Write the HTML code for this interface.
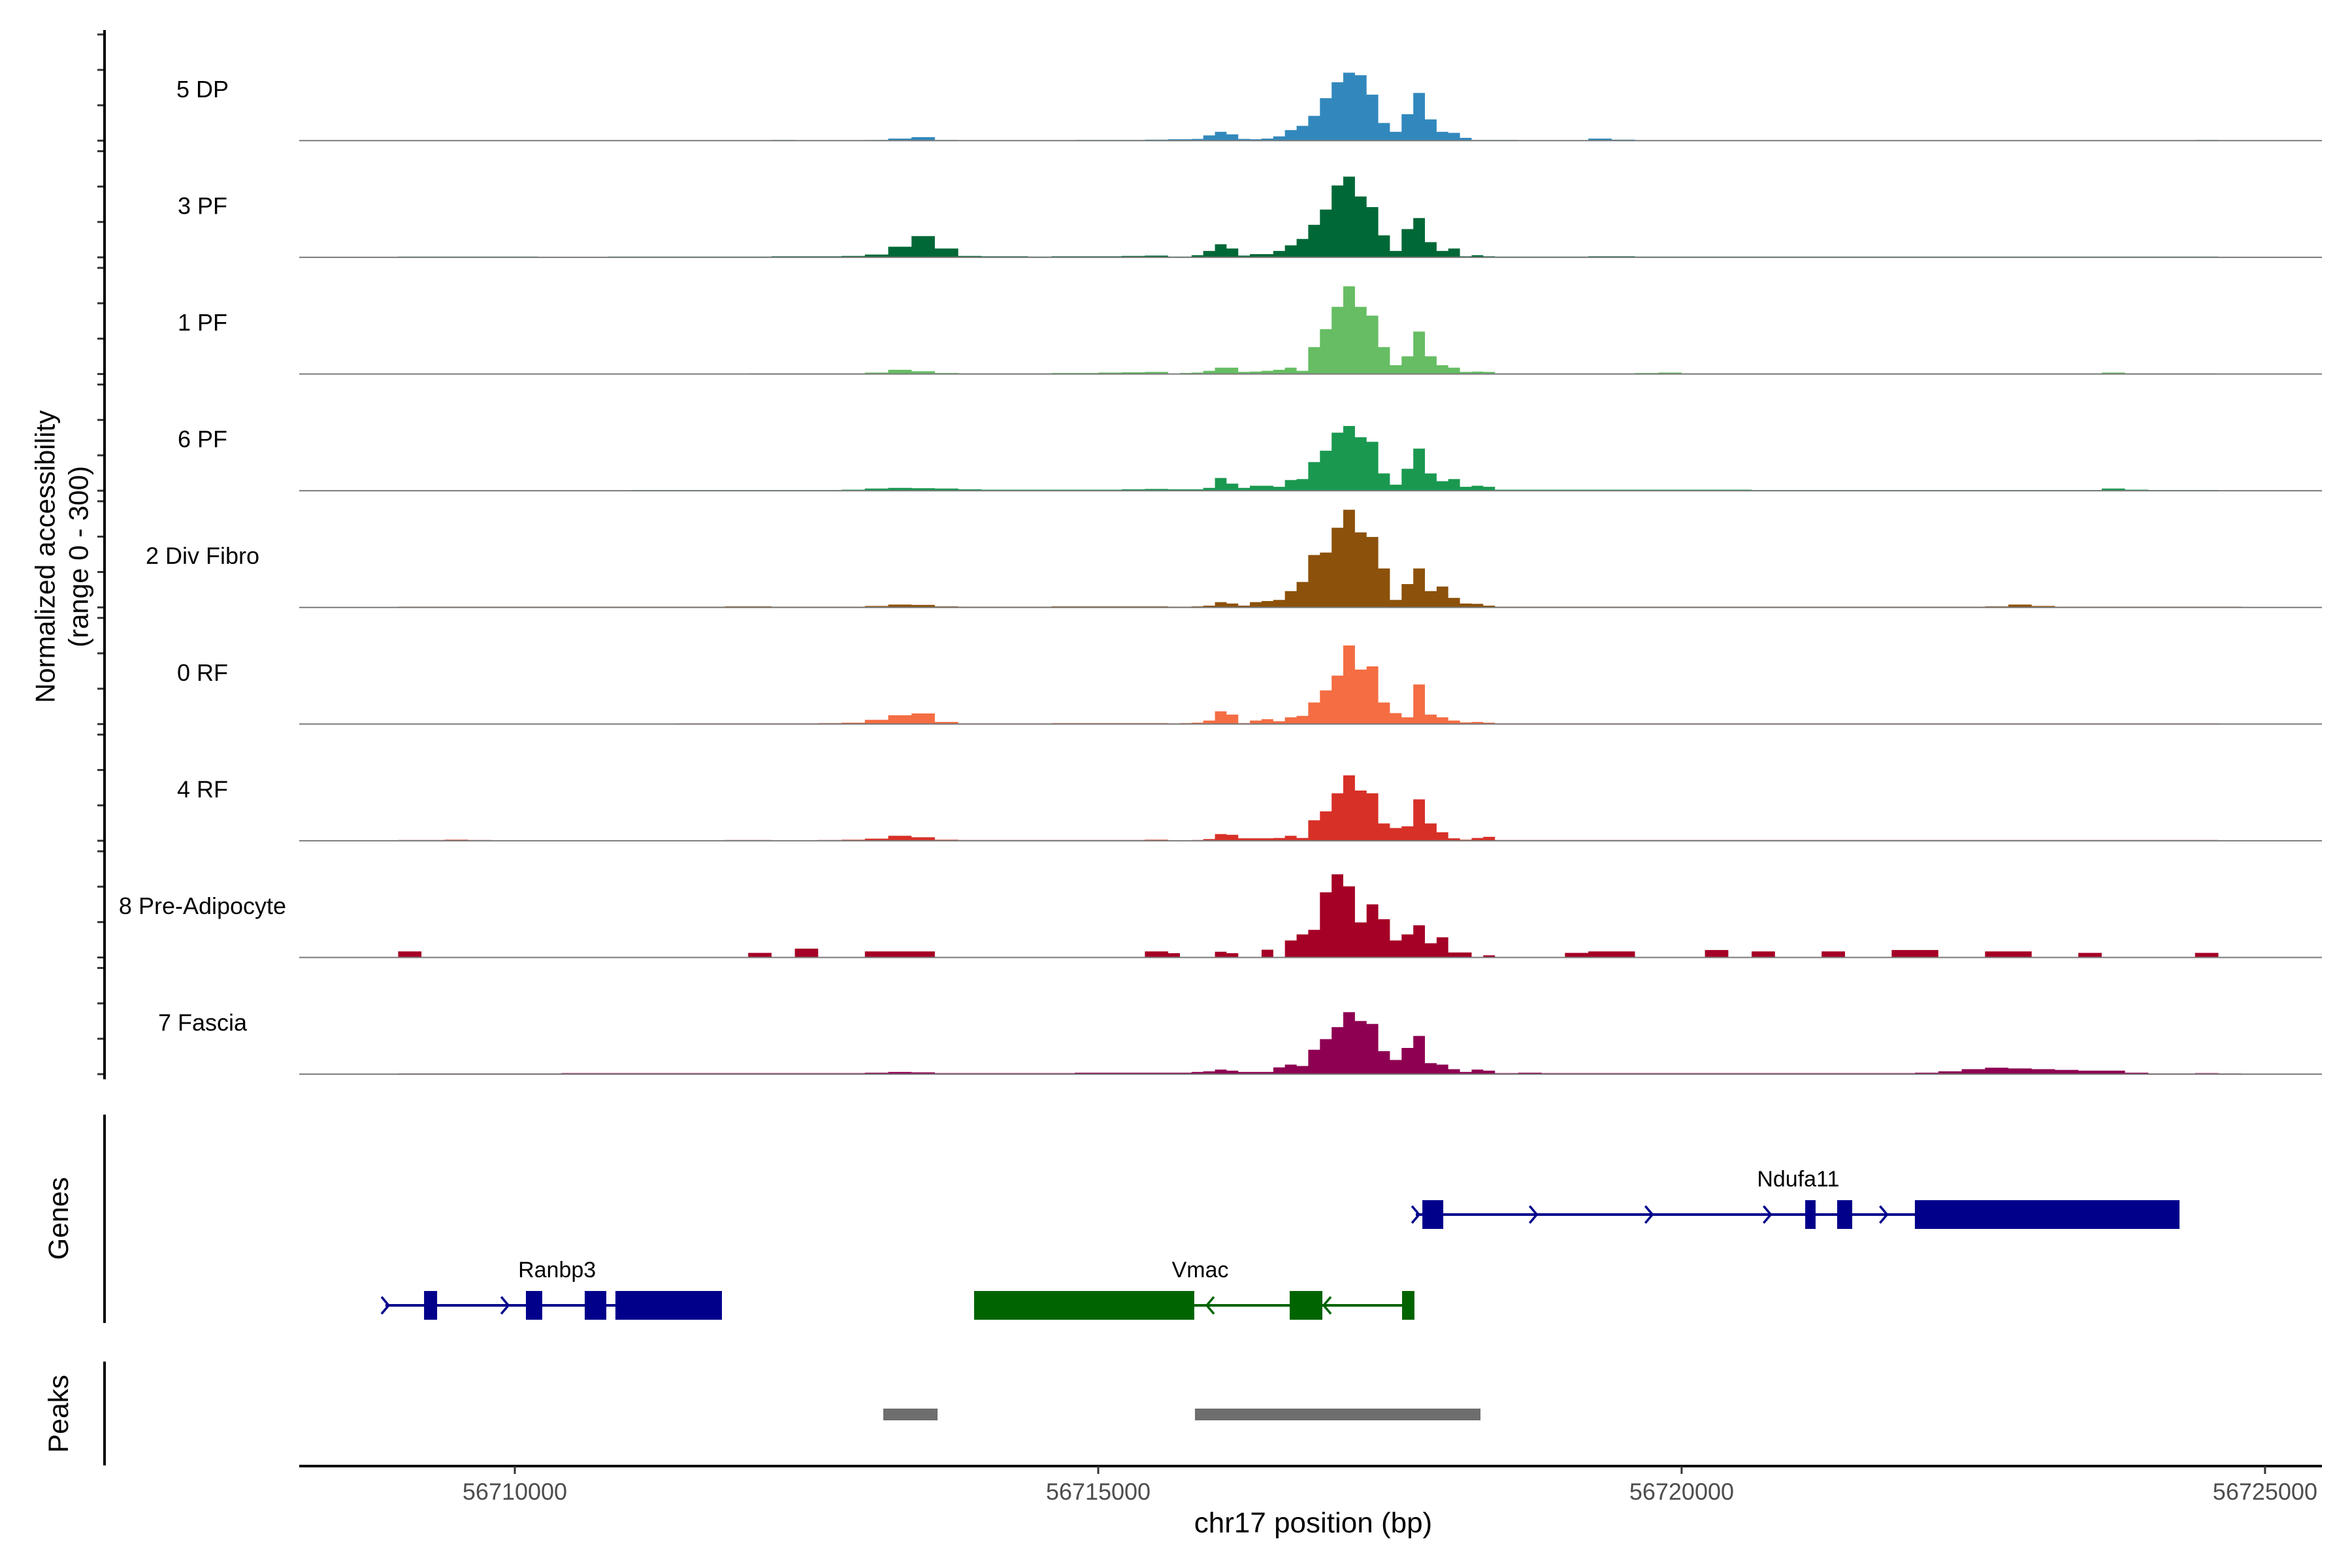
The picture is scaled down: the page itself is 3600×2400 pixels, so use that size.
<!DOCTYPE html>
<html><head><meta charset="utf-8"><title>Coverage plot chr17</title>
<style>
html,body{margin:0;padding:0;background:#fff;}
svg{display:block;font-family:"Liberation Sans",Arial,sans-serif;}
</style></head>
<body>
<svg id="chart" xmlns="http://www.w3.org/2000/svg" width="3600" height="2400" viewBox="0 0 3600 2400">
<rect x="0" y="0" width="3600" height="2400" fill="#fff"/>
<g id="tracks"></g>
<g id="yaxis"></g>
<text transform="translate(69,852) rotate(-90)" text-anchor="middle" dominant-baseline="central" font-size="42" fill="#000">Normalized accessibility</text>
<text transform="translate(120,852) rotate(-90)" text-anchor="middle" dominant-baseline="central" font-size="42" fill="#000">(range 0 - 300)</text>
<line x1="160" y1="1706" x2="160" y2="2025" stroke="#000" stroke-width="4"/>
<text transform="translate(90,1865) rotate(-90)" text-anchor="middle" dominant-baseline="central" font-size="43" fill="#000">Genes</text>
<line x1="160" y1="2084" x2="160" y2="2243" stroke="#000" stroke-width="4"/>
<text transform="translate(90,2164) rotate(-90)" text-anchor="middle" dominant-baseline="central" font-size="43" fill="#000">Peaks</text>
<g id="genes"></g>
<g id="peaks"></g>
<g id="xaxis"></g>
<text x="2010" y="2331" text-anchor="middle" dominant-baseline="central" font-size="44" fill="#000">chr17 position (bp)</text>
</svg>
<script>
// ---- data ----
const trackNames = ["5 DP","3 PF","1 PF","6 PF","2 Div Fibro","0 RF","4 RF","8 Pre-Adipocyte","7 Fascia"];
const trackColors = ["#3288BD","#006837","#66BD63","#1A9850","#8C510A","#F46D43","#D73027","#A50026","#8E0152"];
// bin segments: [start, end, step] in bp
const binSegments = [[56708800,56715600,200],[56715600,56718400,100],[56718400,56725000,200]];
// values: left(34) + middle(28) + right(33)
const cov5DP = [0,1,1,1,1,1,1,1,1,1,1,1,1,1,1,1,1,2,1,1,1,2,6,10,2,1,1,1,1,1,2,2,2,3,
 4,4,5,15,25,18,5,4,6,12,30,42,70,120,165,192,185,130,50,25,75,135,60,25,22,8,2,2,
 2,1,1,1,6,3,1,1,1,1,1,1,1,1,1,1,1,1,1,1,1,1,1,1,1,1,1,1,1,1,2,1,0];
const cov3PF = [0,2,2,2,2,2,2,1,1,1,2,2,2,2,2,2,2,3,3,3,4,8,30,60,25,4,3,3,2,3,3,3,4,5,
 2,2,6,18,37,25,5,9,9,18,34,52,92,135,203,228,172,142,62,18,80,111,43,18,25,3,6,3,
 2,2,2,2,3,3,2,2,2,2,2,2,2,2,2,2,2,2,2,2,2,2,2,2,2,2,2,2,2,2,2,1,0];
const cov1PF = [0,1,1,1,1,1,1,1,1,1,1,1,1,1,1,1,2,2,2,2,2,4,12,8,3,2,2,2,2,3,3,4,5,6,
 1,3,4,9,18,18,6,7,9,12,18,9,76,127,190,248,190,165,76,25,50,120,50,25,18,6,7,6,
 2,2,2,2,2,2,3,4,2,2,2,2,2,2,2,2,2,2,2,2,2,2,2,2,2,2,4,2,2,2,2,1,0];
const cov6PF = [0,1,1,1,1,1,1,1,1,1,1,2,2,2,2,2,2,2,2,2,3,6,8,7,6,4,3,3,3,3,3,3,4,5,
 4,4,4,8,36,20,8,14,14,11,30,33,81,113,164,183,151,138,49,17,62,119,49,27,33,11,14,11,
 3,3,3,3,3,3,3,3,3,3,3,2,2,2,2,2,2,2,2,2,2,2,2,2,2,2,6,3,2,2,2,1,0];
const cov2DivFibro = [0,2,2,2,2,2,2,2,2,2,2,2,2,2,2,3,3,2,2,2,2,4,8,7,3,2,2,2,2,3,3,3,3,3,
 2,2,3,5,15,11,5,15,18,21,46,72,148,155,225,276,212,199,110,21,66,110,46,59,27,11,10,5,
 2,2,2,2,2,2,2,2,2,2,2,2,2,2,2,2,2,2,2,2,2,3,8,4,2,2,2,2,2,2,2,2,1];
const cov0RF = [0,1,1,1,1,1,1,1,1,1,1,1,1,2,2,2,2,2,2,3,4,12,25,30,6,2,2,2,2,3,3,3,3,3,
 2,3,4,10,36,27,3,10,14,8,19,23,61,95,137,222,154,163,61,31,19,112,27,19,10,5,6,4,
 2,2,2,2,2,2,2,2,2,2,2,2,2,2,2,2,2,2,2,2,2,2,2,2,2,2,2,2,2,2,2,1,0];
const cov4RF = [0,2,2,3,2,1,1,1,1,1,1,1,1,1,1,2,2,1,1,2,3,6,14,10,3,2,2,2,2,2,2,2,2,3,
 1,1,2,5,19,17,7,7,7,8,14,8,58,83,134,185,142,134,49,36,41,117,49,24,7,3,8,11,
 2,2,2,2,2,2,2,2,2,2,2,2,2,2,2,2,2,2,2,2,2,2,2,2,2,2,2,2,2,2,2,1,0];
const cov8PreAdipocyte = [0,17,0,0,0,0,0,0,0,0,0,0,0,0,0,0,13,0,25,0,0,17,17,17,0,0,0,0,0,0,0,0,0,17,
 12,0,0,0,16,12,0,0,22,0,48,65,78,184,235,201,99,150,108,48,65,91,40,57,14,14,0,6,
 0,0,0,13,17,17,0,0,0,21,0,17,0,0,17,0,0,21,21,0,0,17,17,0,0,13,0,0,0,0,13,0,0];
const cov7Fascia = [0,2,2,2,2,2,2,2,3,3,3,3,3,3,3,3,3,3,3,3,3,4,6,5,3,3,3,3,3,3,4,4,4,4,
 4,4,6,8,13,10,6,6,6,19,27,23,69,99,133,175,150,142,65,40,74,108,31,27,14,6,13,10,
 3,4,3,3,3,3,3,3,3,3,3,3,3,3,3,3,3,3,4,8,14,18,16,14,12,10,10,4,2,2,3,2,0];
const trackValues = [cov5DP,cov3PF,cov1PF,cov6PF,cov2DivFibro,cov0RF,cov4RF,cov8PreAdipocyte,cov7Fascia];
const yTickValues = [0,100,200,300];
const xTickValues = [56710000,56715000,56720000,56725000];
const xTickLabels = ["56710000","56715000","56720000","56725000"];
const peakStarts = [56713158,56715829];
const peakEnds = [56713623,56718276];
const geneNames = ["Ranbp3","Vmac","Ndufa11"];
const geneStrand = ["+","-","+"];
const geneStart = [56708891,56713936,56717722];
const geneEnd = [56711775,56717710,56724267];
const geneExonStarts = [[56709222,56710095,56710599,56710862],[56713936,56716641,56717604],[56717778,56721059,56721333,56721999]];
const geneExonEnds = [[56709334,56710235,56710784,56711775],[56715823,56716921,56717710],[56717957,56721148,56721462,56724267]];
const geneArrows = [[56708891,56709917],[56715958,56716960],[56717722,56718731,56719722,56720736,56721733]];
const geneLabelPos = [56710362,56715874,56720999];
const geneRow = [1,1,0];

// ---- scales ----
const NS = "http://www.w3.org/2000/svg";
const X0 = 788, PXPERBP = 0.178593;
function xScale(bp){ return X0 + (bp - 56710000) * PXPERBP; }
const baseY0 = 215.3, trackStep = 178.6, trackH = 162.5, yMax = 300;
function yScale(i, v){ return baseY0 + i*trackStep - v/yMax*trackH; }
function mk(tag, attrs, parent){ const e=document.createElementNS(NS,tag); for(const k in attrs) e.setAttribute(k,attrs[k]); parent.appendChild(e); return e; }

const binStarts=[], binEnds=[];
binSegments.forEach(s=>{ for(let b=s[0]; b<s[1]; b+=s[2]){ binStarts.push(b); binEnds.push(b+s[2]); } });

const gT = document.getElementById("tracks");
const gY = document.getElementById("yaxis");
trackNames.forEach((name,i)=>{
  const base = yScale(i,0);
  const vals = trackValues[i];
  let d = "M"+xScale(binStarts[0]).toFixed(1)+","+base.toFixed(1);
  for(let k=0;k<binStarts.length;k++){
    const v = vals[k]||0;
    const y = yScale(i, Math.min(v,yMax)).toFixed(1);
    d += " L"+xScale(binStarts[k]).toFixed(1)+","+y+" L"+xScale(binEnds[k]).toFixed(1)+","+y;
  }
  d += " L"+xScale(binEnds[binEnds.length-1]).toFixed(1)+","+base.toFixed(1)+" Z";
  const p = mk("path",{d:d,fill:trackColors[i]},gT);
  
  
  const bl = mk("line",{x1:458,x2:3554,y1:base,y2:base,stroke:"#7a7a7a","stroke-width":2},gT);
  
  
  const t = mk("text",{x:310,y:base-79,"text-anchor":"middle","dominant-baseline":"central","font-size":36,fill:"#000"},gT);
  t.textContent = name;
  
  
  yTickValues.forEach(v=>{
    const yy = yScale(i,v);
    const tk = mk("line",{x1:149,x2:160,y1:yy,y2:yy,stroke:"#333","stroke-width":3},gY);
    
    
  });
});
const yl = mk("line",{x1:160,x2:160,y1:46,y2:1652,stroke:"#000","stroke-width":4},gY);



// genes
const gG = document.getElementById("genes");
const rowY = [1859, 1998], exonH = 44;
geneNames.forEach((g,i)=>{
  const col = geneStrand[i]==="+" ? "#00008B" : "#006400";
  const y = rowY[geneRow[i]];
  const ln = mk("line",{x1:xScale(geneStart[i]),x2:xScale(geneEnd[i]),y1:y,y2:y,stroke:col,"stroke-width":4},gG);
  
  
  geneExonStarts[i].forEach((s,j)=>{
    const x1 = xScale(s), x2 = xScale(geneExonEnds[i][j]);
    const r = mk("rect",{x:x1,y:y-exonH/2,width:Math.max(x2-x1,3),height:exonH,fill:col},gG);
    
    
  });
  geneArrows[i].forEach(a=>{
    const x = xScale(a);
    const dd = geneStrand[i]==="+" ? `M${x-6},${y-13} L${x+5},${y} L${x-6},${y+13}` : `M${x+6},${y-13} L${x-5},${y} L${x+6},${y+13}`;
    const ar = mk("path",{d:dd,fill:"none",stroke:col,"stroke-width":3.5},gG);
    
    
  });
  const lab = mk("text",{x:xScale(geneLabelPos[i]),y:y-54,"text-anchor":"middle","dominant-baseline":"central","font-size":34,fill:"#000"},gG);
  lab.textContent = g;
  
  
});

// peaks
const gP = document.getElementById("peaks");
peakStarts.forEach((s,i)=>{
  const x1 = xScale(s), x2 = xScale(peakEnds[i]);
  const r = mk("rect",{x:x1,y:2156,width:x2-x1,height:18,fill:"#6e6e6e"},gP);
  
  
});

// x axis
const gX = document.getElementById("xaxis");
const xl = mk("line",{x1:458,x2:3554,y1:2244,y2:2244,stroke:"#000","stroke-width":4},gX);


xTickValues.forEach((v,i)=>{
  const x = xScale(v);
  const tk = mk("line",{x1:x,x2:x,y1:2244,y2:2256,stroke:"#333","stroke-width":3},gX);
  
  
  const t = mk("text",{x:x,y:2283,"text-anchor":"middle","dominant-baseline":"central","font-size":36,fill:"#4d4d4d"},gX);
  t.textContent = xTickLabels[i];
  
  
});
</script>
</body></html>
